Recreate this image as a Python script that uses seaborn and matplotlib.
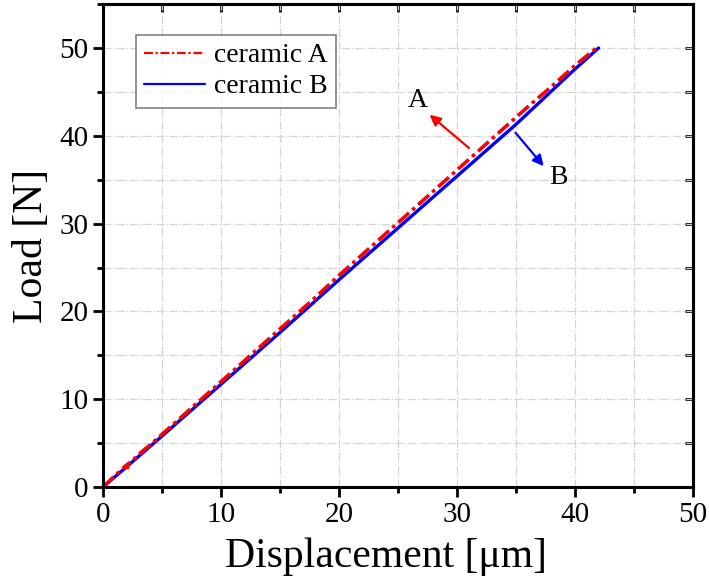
import numpy as np
import pandas as pd
import matplotlib.pyplot as plt
import seaborn as sns
from matplotlib.ticker import MultipleLocator

# load-displacement readings
disp_a = [0, 1.9, 2.1, 2.0, 2.5, 3.0, 4.0, 5.0, 6.0, 7.0, 8.0, 10.0, 12.0, 14.0, 16.0, 18.0,
          20.0, 22.0, 24.0, 26.0, 28.0, 30.0, 32.0, 34.0, 36.0, 38.0, 40.0, 41.8]
load_a = [0, 2.4, 2.2, 2.5, 3.0, 3.7, 4.8, 6.0, 7.2, 8.4, 9.6, 12.0, 14.4, 16.8, 19.2, 21.6,
          24.1, 26.5, 28.9, 31.3, 33.7, 36.1, 38.5, 40.9, 43.3, 45.6, 48.0, 50.0]
disp_b = [0, 2.0, 5.0, 10.0, 15.0, 20.0, 25.0, 30.0, 35.0, 40.0, 42.0]
load_b = [0, 2.3, 5.8, 11.7, 17.6, 23.6, 29.5, 35.4, 41.3, 47.6, 50.0]

labels = ["ceramic A", "ceramic B"]

df = pd.concat([
    pd.DataFrame({"disp": disp_a, "load": load_a, "sample": labels[0]}),
    pd.DataFrame({"disp": disp_b, "load": load_b, "sample": labels[1]}),
])

sns.set_theme(style="white")
plt.rcParams['font.family'] = ['Liberation Serif', 'DejaVu Serif']
plt.rcParams['text.color'] = 'black'
plt.rcParams['axes.labelcolor'] = 'black'
plt.rcParams['xtick.color'] = 'black'
plt.rcParams['ytick.color'] = 'black'

fig = plt.figure(figsize=(7.09, 5.79), dpi=100)
ax = fig.add_axes([0.1453, 0.1589, 0.8321, 0.834])

# dash-dot grid on major + minor ticks
ax.xaxis.set_major_locator(MultipleLocator(10))
ax.xaxis.set_minor_locator(MultipleLocator(5))
ax.yaxis.set_major_locator(MultipleLocator(10))
ax.yaxis.set_minor_locator(MultipleLocator(5))
ax.grid(True, which='both', color='#d4d4d4', linestyle='-.', linewidth=0.9)
ax.set_axisbelow(True)

sub_b = df[df["sample"] == labels[1]]
sub_a = df[df["sample"] == labels[0]]
sns.lineplot(data=sub_b, x="disp", y="load", sort=False, color='#0000ff',
             linewidth=2.4, ax=ax, label=labels[1])
sns.lineplot(data=sub_a, x="disp", y="load", sort=False, color='#ff0000',
             linewidth=2.6, ax=ax, label=labels[0])
ax.lines[-1].set_dashes([4, 1.2, 1, 1.2])

ax.set_xlim(0, 50)
ax.set_ylim(0, 55)
ax.set_xlabel("Displacement [μm]", fontsize=30, labelpad=4)
ax.set_ylabel("Load [N]", fontsize=30, labelpad=6)
ax.xaxis.set_label_coords(0.48, -0.105)

for s in ax.spines.values():
    s.set_linewidth(2.2)
    s.set_color('black')

ax.tick_params(axis='both', which='major', direction='out', length=7, width=2,
               labelsize=21, bottom=True, left=True)
ax.tick_params(axis='both', which='minor', direction='out', length=4, width=2,
               bottom=True, left=True)
ax.tick_params(axis='both', which='both', top=False, right=False)

# inward ticks on the mirrored top/right axes
sec_x = ax.secondary_xaxis('top')
sec_x.xaxis.set_major_locator(MultipleLocator(5))
sec_x.tick_params(direction='in', length=6, width=2, labeltop=False)
sec_x.spines['top'].set_linewidth(2.2)
sec_y = ax.secondary_yaxis('right')
sec_y.yaxis.set_major_locator(MultipleLocator(5))
sec_y.tick_params(direction='in', length=6, width=2, labelright=False)
sec_y.spines['right'].set_linewidth(2.2)

# annotations
ax.annotate("", xy=(27.5, 42.6), xytext=(31.2, 38.4),
            arrowprops=dict(arrowstyle='-|>', color='#ff0000', lw=1.6, mutation_scale=16))
ax.text(26.7, 44.0, "A", fontsize=20, ha='center', va='center')
ax.annotate("", xy=(37.5, 36.3), xytext=(34.8, 40.6),
            arrowprops=dict(arrowstyle='-|>', color='#0000ff', lw=1.6, mutation_scale=16))
ax.text(38.6, 35.3, "B", fontsize=20, ha='center', va='center')

handles, labs = ax.get_legend_handles_labels()
order = [labs.index(labels[0]), labs.index(labels[1])]
leg = ax.legend([handles[i] for i in order], [labs[i] for i in order],
                loc='upper left', bbox_to_anchor=(0.056, 0.937), borderaxespad=0,
                fontsize=20, frameon=True, fancybox=False, edgecolor='#606060',
                handlelength=2.2, handletextpad=0.3, borderpad=0.3, labelspacing=0.2)
leg.get_frame().set_linewidth(1.2)
for ln in leg.get_lines():
    ln.set_linewidth(1.6)

fig.savefig("out.png", dpi=100)
